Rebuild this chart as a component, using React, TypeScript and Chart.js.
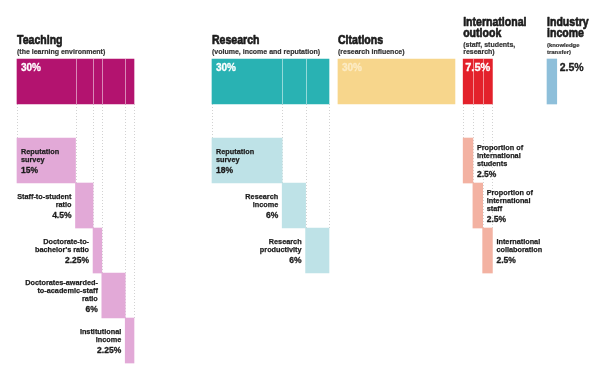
import React, { useEffect, useRef } from "react";
import { Chart, registerables } from "chart.js";

Chart.register(...registerables);

// ---------- DATA ----------
const PILLAR_TITLES = ["Teaching", "Research", "Citations", "International\noutlook", "Industry\nincome"];
const PILLAR_SUBTITLES = [
  "(the learning environment)",
  "(volume, income and reputation)",
  "(research influence)",
  "(staff, students,\nresearch)",
  "(knowledge\ntransfer)",
];
const PILLAR_WEIGHTS = [30, 30, 30, 7.5, 2.5];

const TEACHING_METRICS = [
  "Reputation\nsurvey",
  "Staff-to-student\nratio",
  "Doctorate-to-\nbachelor's ratio",
  "Doctorates-awarded-\nto-academic-staff\nratio",
  "Institutional\nincome",
];
const TEACHING_WEIGHTS = [15, 4.5, 2.25, 6, 2.25];

const RESEARCH_METRICS = ["Reputation\nsurvey", "Research\nincome", "Research\nproductivity"];
const RESEARCH_WEIGHTS = [18, 6, 6];

const INTL_METRICS = [
  "Proportion of\ninternational\nstudents",
  "Proportion of\ninternational\nstaff",
  "International\ncollaboration",
];
const INTL_WEIGHTS = [2.5, 2.5, 2.5];

// ---------- LAYOUT / STYLE ----------
const GROUP_START = [0, 50, 82.3, 114.4, 135.9];
const TOP_COLORS = ["#B3136F", "#29B2B3", "#F7D68C", "#E3212B", "#8EBFDA"];
const SUB_COLORS = ["#E2A9D7", "#BEE2E7", "", "#F3B2A2", ""];
const SUB_ROW_OFFSET = 1.756;
const BAR_PX = 45;
const PX_PER_UNIT = 3.9;
const X_MIN = -17 / PX_PER_UNIT;
const Y_MIN = -81.5 / BAR_PX;
const W = 600;
const H = 373;

const FONT = '"Liberation Sans", Arial, "DejaVu Sans", sans-serif';

type SubGroup = { pillar: number; names: string[]; weights: number[]; modes: string[] };
const SUB_GROUPS: SubGroup[] = [
  { pillar: 0, names: TEACHING_METRICS, weights: TEACHING_WEIGHTS, modes: ["inside", "left", "left", "left", "left"] },
  { pillar: 1, names: RESEARCH_METRICS, weights: RESEARCH_WEIGHTS, modes: ["inside", "left", "left"] },
  { pillar: 3, names: INTL_METRICS, weights: INTL_WEIGHTS, modes: ["right", "right", "right"] },
];

function cumStarts(ws: number[]) {
  const out: number[] = [];
  let c = 0;
  for (const w of ws) {
    out.push(c);
    c += w;
  }
  return out;
}

function txt(
  ctx: CanvasRenderingContext2D,
  s: string,
  x: number,
  y: number,
  size: number,
  color: string,
  align: CanvasTextAlign = "left",
  sx = 1,
  heavy = 0
) {
  ctx.save();
  ctx.font = `bold ${size}px ${FONT}`;
  ctx.fillStyle = color;
  ctx.textAlign = align;
  ctx.textBaseline = "alphabetic";
  ctx.translate(x, y);
  ctx.scale(sx, 1);
  ctx.fillText(s, 0, 0);
  if (heavy > 0) {
    ctx.strokeStyle = color;
    ctx.lineWidth = heavy;
    ctx.lineJoin = "round";
    ctx.strokeText(s, 0, 0);
  }
  ctx.restore();
}

const infographicPlugin = {
  id: "infographic",
  beforeDatasetsDraw(chart: any) {
    const ctx: CanvasRenderingContext2D = chart.ctx;
    const top = chart.getDatasetMeta(0).data;
    ctx.save();
    ctx.strokeStyle = "#d2d2d2";
    ctx.lineWidth = 1;
    ctx.setLineDash([1, 2]);
    SUB_GROUPS.forEach((g, gi) => {
      const tb = top[g.pillar];
      const topBottom = tb.y + tb.height / 2;
      const meta = chart.getDatasetMeta(gi + 1).data;
      meta.forEach((el: any) => {
        const l = Math.min(el.x, el.base);
        const r = Math.max(el.x, el.base);
        const t = el.y - el.height / 2;
        [l, r].forEach((x) => {
          const px = Math.round(x) + 0.5;
          ctx.beginPath();
          ctx.moveTo(px, topBottom);
          ctx.lineTo(px, t);
          ctx.stroke();
        });
      });
    });
    ctx.restore();
  },
  afterDatasetsDraw(chart: any) {
    const ctx: CanvasRenderingContext2D = chart.ctx;
    const top = chart.getDatasetMeta(0).data;

    // white separators inside top bars
    ctx.save();
    ctx.strokeStyle = "rgba(255,255,255,0.5)";
    ctx.lineWidth = 1;
    SUB_GROUPS.forEach((g, gi) => {
      const tb = top[g.pillar];
      const t0 = tb.y - tb.height / 2;
      const t1 = tb.y + tb.height / 2;
      const meta = chart.getDatasetMeta(gi + 1).data;
      meta.forEach((el: any, i: number) => {
        if (i === 0) return;
        const px = Math.round(Math.min(el.x, el.base)) + 0.5;
        ctx.beginPath();
        ctx.moveTo(px, t0);
        ctx.lineTo(px, t1);
        ctx.stroke();
      });
    });
    ctx.restore();

    // headers
    top.forEach((el: any, i: number) => {
      const left = Math.min(el.x, el.base);
      const subLines = PILLAR_SUBTITLES[i].split("\n");
      const titleLines = PILLAR_TITLES[i].split("\n");
      const subSize = i === 4 ? 5.9 : 7;
      let b = 53.5;
      const subBases: number[] = [];
      for (let k = subLines.length - 1; k >= 0; k--) {
        subBases[k] = b;
        b -= 6.8;
      }
      subLines.forEach((s, k) => txt(ctx, s, left, subBases[k], subSize, "#333333", "left", 1, 0.2));
      let tbase = subBases[0] - 9.7;
      const tBases: number[] = [];
      for (let k = titleLines.length - 1; k >= 0; k--) {
        tBases[k] = tbase;
        tbase -= 11;
      }
      titleLines.forEach((s, k) => txt(ctx, s, left, tBases[k], 13.2, "#1c1c1c", "left", 0.8, 0.7));

      // percentages on top bars
      const pct = `${PILLAR_WEIGHTS[i]}%`;
      const right = Math.max(el.x, el.base);
      const tTop = el.y - el.height / 2;
      if (i === 3) {
        txt(ctx, pct, (left + right) / 2, tTop + 12, 11, "#ffffff", "center", 1, 0.3);
      } else if (i === 4) {
        txt(ctx, pct, right + 3, tTop + 12, 10.5, "#1c1c1c", "left", 1, 0.3);
      } else if (i === 2) {
        txt(ctx, pct, left + 4, tTop + 12, 10, "#FCEBC4", "left", 1, 0.3);
      } else {
        txt(ctx, pct, left + 4, tTop + 12, 10, "#ffffff", "left", 1, 0.3);
      }
    });

    // sub labels
    SUB_GROUPS.forEach((g, gi) => {
      const meta = chart.getDatasetMeta(gi + 1).data;
      meta.forEach((el: any, i: number) => {
        const l = Math.min(el.x, el.base);
        const r = Math.max(el.x, el.base);
        const lines = g.names[i].split("\n");
        const n = lines.length;
        const lh = 8.3;
        const b1 = el.y - ((n - 1) * lh + 5.2) / 2;
        const mode = g.modes[i];
        let x = l + 4;
        let align: CanvasTextAlign = "left";
        if (mode === "left") {
          x = l - 4;
          align = "right";
        } else if (mode === "right") {
          x = r + 4;
        }
        lines.forEach((s, k) => txt(ctx, s, x, b1 + k * lh, 7.3, "#1c1c1c", align, 1, 0.25));
        txt(ctx, `${g.weights[i]}%`, x, b1 + (n - 1) * lh + 10.5, 8.5, "#1c1c1c", align, 1, 0.3);
      });
    });
  },
};

export default function App() {
  const ref = useRef<HTMLCanvasElement | null>(null);
  useEffect(() => {
    if (!ref.current) return;
    const topData = PILLAR_WEIGHTS.map((w, i) => ({ x: [GROUP_START[i], GROUP_START[i] + w], y: 0 }));
    const subSets = SUB_GROUPS.map((g) => {
      const starts = cumStarts(g.weights);
      return {
        data: g.weights.map((w, i) => ({
          x: [GROUP_START[g.pillar] + starts[i], GROUP_START[g.pillar] + starts[i] + w],
          y: SUB_ROW_OFFSET + i,
        })),
        backgroundColor: SUB_COLORS[g.pillar],
      };
    });
    const chart = new Chart(ref.current, {
      type: "bar",
      data: {
        datasets: [{ data: topData as any, backgroundColor: TOP_COLORS }, ...(subSets as any)],
      },
      options: {
        indexAxis: "y",
        animation: false,
        responsive: true,
        maintainAspectRatio: false,
        layout: { padding: 0 },
        datasets: { bar: { barThickness: BAR_PX, grouped: false, borderWidth: 0 } } as any,
        plugins: { legend: { display: false }, tooltip: { enabled: false } },
        scales: {
          x: { type: "linear", display: false, min: X_MIN, max: X_MIN + W / PX_PER_UNIT, offset: false },
          y: { type: "linear", display: false, min: Y_MIN, max: Y_MIN + H / BAR_PX, reverse: true, offset: false },
        },
      } as any,
      plugins: [infographicPlugin],
    });
    return () => chart.destroy();
  }, []);
  return (
    <div style={{ position: "fixed", left: 0, top: 0, width: W, height: H, background: "#ffffff" }}>
      <canvas ref={ref} />
    </div>
  );
}
